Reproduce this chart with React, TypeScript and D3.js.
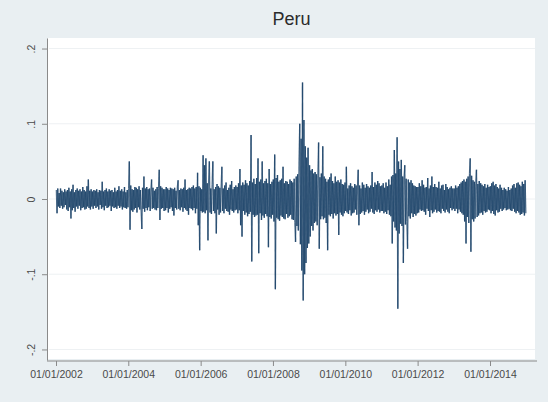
import React, { useEffect, useRef } from "react";
import * as d3 from "d3";

// chart text
const title = "Peru";
const yTicks = [-0.2, -0.1, 0, 0.1, 0.2];
const yTickLabels = ["-.2", "-.1", "0", ".1", ".2"];
const xTickYears = [2002, 2004, 2006, 2008, 2010, 2012, 2014];

// weekly returns, one list per year
const years = [2002, 2003, 2004, 2005, 2006, 2007, 2008, 2009, 2010, 2011, 2012, 2013, 2014];
const r2002 = [.012,-.019,.014,-.010,.008,-.012,.014,-.009,.011,-.013,.009,-.011,.013,-.008,.010,-.014,.012,-.016,.015,-.011,.010,-.026,.013,-.015,.019,-.012,.009,-.017,.012,-.010,.014,-.013,.011,-.009,.013,-.015,.010,-.012,.016,-.011,.012,-.014,.010,-.013,.017,-.010,.026,-.012,.011,-.014,.013,-.010];
const r2003 = [.010,-.013,.012,-.009,.011,-.012,.013,-.010,.009,-.014,.012,-.008,.011,-.013,.023,-.011,.010,-.015,.012,-.009,.014,-.012,.010,-.011,.013,-.009,.011,-.016,.012,-.010,.009,-.012,.015,-.011,.010,-.013,.012,-.009,.017,-.012,.011,-.010,.013,-.014,.010,-.011,.016,-.012,.009,-.013,.012,-.011];
const r2004 = [.014,.050,-.041,.018,-.015,.013,-.017,.012,-.014,.016,-.012,.015,-.018,.013,-.011,.017,-.014,.012,-.016,-.040,.015,-.013,.030,-.017,.014,-.012,.016,-.015,.013,-.011,.014,-.016,.012,.026,-.013,.015,-.012,.011,-.014,.013,-.015,.016,-.012,.014,.039,-.028,.017,-.013,.015,-.012,.013,-.016];
const r2005 = [.013,-.015,.016,-.012,.014,-.018,.012,-.013,.015,-.011,.014,-.016,.013,-.022,.015,-.012,.011,-.014,.016,.025,-.013,.012,-.015,.014,-.011,.013,-.017,.015,-.012,.026,-.014,.012,-.016,.013,-.021,.015,-.012,.014,-.013,.016,-.015,.018,-.012,.014,-.019,.016,-.013,.035,-.035,.017,-.068,.015];
const r2006 = [-.016,.013,-.018,.058,-.017,.045,-.019,.054,-.015,.021,-.055,.024,.050,-.018,.014,-.020,.019,.050,-.016,.013,-.019,.016,-.046,.020,-.014,.017,-.021,.015,-.018,.016,.043,-.016,.014,-.019,.018,-.013,.022,-.016,.012,-.017,.015,-.021,.019,-.014,.024,-.016,.013,-.018,.016,-.015,.018,-.014];
const r2007 = [.016,-.019,.021,-.015,.040,-.035,.018,-.050,.022,-.016,.019,-.021,.025,-.018,.021,-.023,.018,-.020,.024,-.017,.085,-.083,.022,-.021,.027,-.024,.020,-.022,.028,-.021,.054,-.072,.023,-.019,.026,-.028,.050,-.022,.021,-.025,.024,-.020,.027,-.023,.021,-.064,.040,-.024,.020,-.026,.023,-.021];
const r2008 = [.026,-.030,.059,-.120,.028,-.025,.032,-.027,.023,-.029,.025,-.022,.027,-.024,.043,-.026,.021,-.027,.024,-.020,.023,-.025,.020,-.023,.026,-.021,.024,-.027,.022,-.028,.027,-.031,-.057,.030,-.036,.033,-.042,.048,.100,-.060,.080,-.095,.155,-.135,.105,-.100,.070,-.085,.055,-.065,.068,-.059];
const r2009 = [.045,-.050,.038,-.036,.040,-.042,.034,-.032,.036,-.030,.033,-.035,.031,.075,-.066,.029,-.027,.034,-.023,.070,-.027,.030,-.025,.027,-.032,.023,-.068,.026,-.021,.029,-.023,.034,-.020,.024,-.026,.021,-.019,.030,-.022,.023,-.020,.025,-.048,.022,-.018,.026,-.021,.020,-.023,.019,-.019,.022];
const r2010 = [-.016,.043,-.018,.014,-.020,.018,-.015,.021,-.022,.017,-.019,.015,-.018,.020,-.014,.018,-.021,.016,.039,-.035,.018,-.020,.014,-.018,.022,-.016,.019,-.021,.015,-.017,.020,-.014,.017,-.019,.015,-.017,.018,-.013,.036,-.018,.016,-.020,.022,-.015,.019,-.017,.024,-.014,.021,-.018,.017,-.016];
const r2011 = [.018,-.016,.021,-.019,.015,-.017,.022,-.020,.017,-.015,.026,-.021,.019,-.023,.030,-.059,.032,-.030,.065,-.038,.034,-.042,.082,-.146,.050,-.046,.040,-.033,.052,-.036,.030,-.085,.028,.045,-.034,.027,-.030,-.066,.026,-.023,.022,-.026,.025,-.019,.021,-.024,.018,-.020,.017,-.022,.016,-.019];
const r2012 = [.016,-.018,.021,-.014,.017,-.016,.025,-.015,.019,-.017,.015,-.021,.016,-.013,.028,-.016,.014,-.024,.018,-.015,.030,-.019,.016,-.017,.020,-.014,.016,-.018,.015,-.016,.023,-.017,.014,-.019,.018,-.013,.019,-.016,.012,-.018,.020,-.014,.016,-.017,.013,-.019,.015,-.012,.017,-.015,.014,-.013];
const r2013 = [.014,-.016,.018,-.013,.015,-.019,.017,-.014,.020,-.017,.022,-.019,.024,-.021,.026,-.030,.023,-.059,.027,-.024,.030,-.032,.034,.054,-.070,.031,-.027,.025,-.030,.023,-.026,.021,.039,-.024,.020,-.022,.024,-.019,.021,-.018,.019,-.021,.017,-.016,.020,-.018,.015,-.017,.019,-.014,.016,-.015];
const r2014 = [.017,-.019,.021,-.016,.023,-.020,.018,-.022,.020,-.015,.016,-.018,.014,-.017,.019,-.013,.015,-.016,.012,-.014,.015,-.012,.013,-.015,.011,-.014,.016,-.013,.012,-.015,.014,-.016,.018,-.013,.020,-.017,.015,-.019,.021,-.016,.022,-.018,.019,-.021,.017,-.020,.023,-.018,.020,-.022,.025,-.019];
const returnsByYear = [r2002, r2003, r2004, r2005, r2006, r2007, r2008, r2009, r2010, r2011, r2012, r2013, r2014];

type Pt = { date: Date; value: number };

const App = () => {
  const ref = useRef<SVGSVGElement>(null);

  useEffect(() => {
    const width = 548;
    const height = 402;
    const svg = d3.select(ref.current);
    svg.selectAll("*").remove();

    const plot = { left: 48, right: 535, top: 38, bottom: 360 };

    // background + white plot region
    svg.append("rect").attr("width", width).attr("height", height).attr("fill", "#e9eff2");
    svg.append("rect")
      .attr("x", plot.left)
      .attr("y", plot.top)
      .attr("width", plot.right - plot.left)
      .attr("height", plot.bottom - plot.top - 1)
      .attr("fill", "#ffffff");

    // one point a week, spread evenly over each year
    const dayMs = 864e5;
    const data: Pt[] = years.flatMap((yr, k) => {
      const start = new Date(yr, 0, 1).getTime();
      const step = (365.25 / returnsByYear[k].length) * dayMs;
      return returnsByYear[k].map((v, i) => ({ date: new Date(start + (i + 0.5) * step), value: v }));
    });

    const x = d3.scaleTime()
      .domain([new Date(2002, 0, 1), new Date(2014, 0, 1)])
      .range([56, 490]);
    const y = d3.scaleLinear().domain([-0.214, 0.214]).range([plot.bottom, plot.top]);

    // grid lines
    svg.append("g")
      .selectAll("line")
      .data(yTicks)
      .join("line")
      .attr("x1", plot.left + 1)
      .attr("x2", plot.right)
      .attr("y1", (d) => y(d))
      .attr("y2", (d) => y(d))
      .attr("stroke", "#eef1f3")
      .attr("stroke-width", 1);

    // the series, drawn segment by segment so dense parts build up darker
    svg.append("g")
      .selectAll("line")
      .data(d3.pairs(data))
      .join("line")
      .attr("x1", (d) => x(d[0].date))
      .attr("y1", (d) => y(d[0].value))
      .attr("x2", (d) => x(d[1].date))
      .attr("y2", (d) => y(d[1].value))
      .attr("stroke", "#173f66")
      .attr("stroke-opacity", 0.75)
      .attr("stroke-width", 1.3)
      .attr("stroke-linecap", "butt");

    // y axis
    const yAxis = svg.append("g")
      .attr("transform", `translate(${plot.left - 1},0)`)
      .call(
        d3.axisLeft(y)
          .tickValues(yTicks)
          .tickFormat((d, i) => yTickLabels[i])
          .tickSize(5)
          .tickSizeOuter(0)
      );
    yAxis.select(".domain").attr("stroke", "#8a8a8a");
    yAxis.selectAll(".tick line").attr("stroke", "#8a8a8a");
    yAxis.selectAll(".tick text")
      .attr("x", null)
      .attr("dy", null)
      .attr("text-anchor", "middle")
      .attr("transform", "translate(-12,0) rotate(-90)")
      .attr("font-family", "Liberation Sans, Arial, sans-serif")
      .attr("font-size", 10.5)
      .attr("fill", "#4a4a4a");

    // x axis
    const xAxis = svg.append("g")
      .attr("transform", `translate(0,${plot.bottom + 1})`)
      .call(
        d3.axisBottom(x)
          .tickValues(xTickYears.map((yr) => new Date(yr, 0, 1)))
          .tickFormat((d) => d3.timeFormat("%m/%d/%Y")(d as Date))
          .tickSize(5)
          .tickSizeOuter(0)
      );
    xAxis.select(".domain").attr("d", `M${plot.left - 1},0H${plot.right + 2}`).attr("stroke", "#8a8a8a");
    xAxis.selectAll(".tick line").attr("stroke", "#8a8a8a");
    xAxis.selectAll(".tick text")
      .attr("y", 10)
      .attr("font-family", "Liberation Sans, Arial, sans-serif")
      .attr("font-size", 10.5)
      .attr("fill", "#4a4a4a");

    // title
    svg.append("text")
      .attr("x", (plot.left + plot.right) / 2)
      .attr("y", 25)
      .attr("text-anchor", "middle")
      .attr("font-family", "Liberation Sans, Arial, sans-serif")
      .attr("font-size", 18)
      .attr("fill", "#2b2b2b")
      .text(title);
  }, []);

  return (
    <svg
      ref={ref}
      width={548}
      height={402}
      style={{ position: "absolute", left: 0, top: 0 }}
    />
  );
};

export default App;
